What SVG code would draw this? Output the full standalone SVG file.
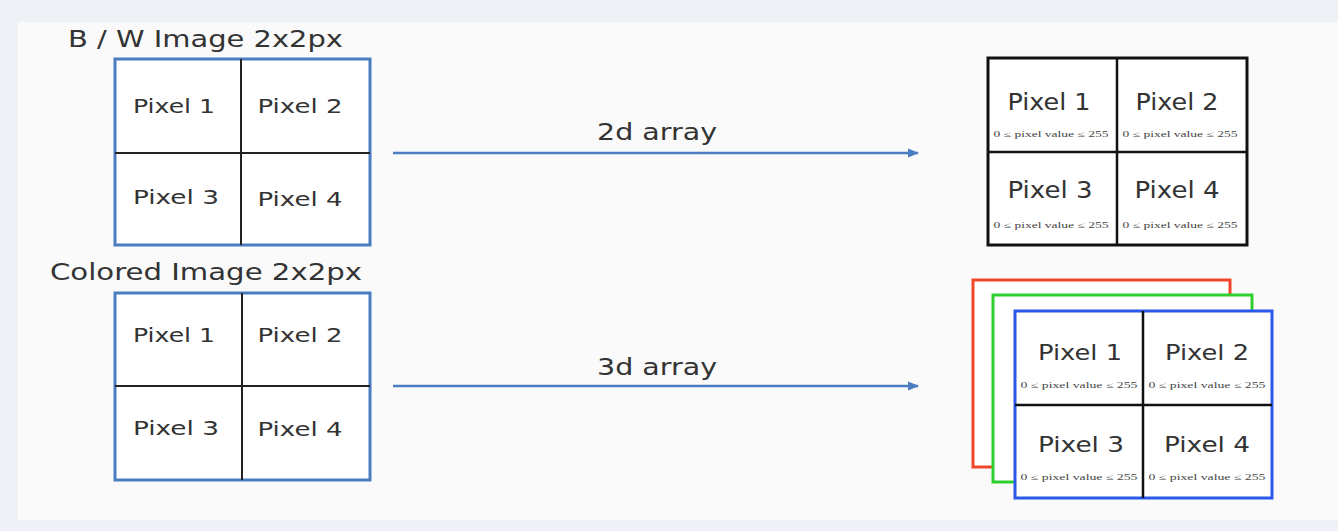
<svg xmlns="http://www.w3.org/2000/svg" width="1338" height="531" viewBox="0 0 1338 531">
<style>
  .t{font-family:"DejaVu Sans","Liberation Sans",sans-serif;fill:#333;}
  .title{font-size:23px;}
  .px{font-size:19px;text-anchor:middle;}
  .pxr{font-size:23px;text-anchor:middle;}
  .pxc{font-size:21px;text-anchor:middle;}
  .sm{font-size:8px;text-anchor:middle;font-family:"Liberation Serif",serif;fill:#444;}
  .lbl{font-size:23px;text-anchor:middle;}
  .lgrid{fill:#fff;stroke:#4a7cc0;stroke-width:3;}
  .div{stroke:#222;stroke-width:2;}
  .divb{stroke:#111;stroke-width:2.5;}
  .conn{stroke:#4a7cc0;stroke-width:2.5;fill:none;}
</style>
<defs>
  <marker id="ah" markerWidth="12" markerHeight="12" refX="10" refY="6" orient="auto" markerUnits="userSpaceOnUse">
    <path d="M0,1.5 L11,6 L0,10.5 Z" fill="#4a7cc0"/>
  </marker>
</defs>
<rect x="0" y="0" width="1338" height="531" fill="#eef2f6"/>
<rect x="18" y="22" width="1320" height="498" fill="#fafafa"/>

<g id="bw-image">
  <text class="t title" x="68" y="47" textLength="275" lengthAdjust="spacingAndGlyphs">B / W Image 2x2px</text>
  <rect class="lgrid" x="115" y="59" width="255" height="186"/>
  <line class="div" x1="241" y1="59" x2="241" y2="245"/>
  <line class="div" x1="115" y1="153" x2="370" y2="153"/>
  <text class="t px" x="174" y="113" textLength="82" lengthAdjust="spacingAndGlyphs">Pixel 1</text>
  <text class="t px" x="300" y="113" textLength="85" lengthAdjust="spacingAndGlyphs">Pixel 2</text>
  <text class="t px" x="176" y="204" textLength="86" lengthAdjust="spacingAndGlyphs">Pixel 3</text>
  <text class="t px" x="300" y="206" textLength="85" lengthAdjust="spacingAndGlyphs">Pixel 4</text>
</g>

<g id="colored-image">
  <text class="t title" x="50" y="280" textLength="312" lengthAdjust="spacingAndGlyphs">Colored Image 2x2px</text>
  <rect class="lgrid" x="115" y="293" width="255" height="187"/>
  <line class="div" x1="242" y1="293" x2="242" y2="480"/>
  <line class="div" x1="115" y1="386" x2="370" y2="386"/>
  <text class="t px" x="174" y="342" textLength="82" lengthAdjust="spacingAndGlyphs">Pixel 1</text>
  <text class="t px" x="300" y="342" textLength="85" lengthAdjust="spacingAndGlyphs">Pixel 2</text>
  <text class="t px" x="176" y="435" textLength="86" lengthAdjust="spacingAndGlyphs">Pixel 3</text>
  <text class="t px" x="300" y="436" textLength="85" lengthAdjust="spacingAndGlyphs">Pixel 4</text>
</g>

<g id="array-2d">
  <rect x="988" y="58" width="259" height="187" fill="#fff" stroke="#111" stroke-width="3"/>
  <line class="divb" x1="1117" y1="58" x2="1117" y2="245"/>
  <line class="divb" x1="988" y1="152" x2="1247" y2="152"/>
  <text class="t pxr" x="1049" y="110" textLength="83" lengthAdjust="spacingAndGlyphs">Pixel 1</text>
  <text class="t pxr" x="1177" y="110" textLength="83" lengthAdjust="spacingAndGlyphs">Pixel 2</text>
  <text class="t pxr" x="1050" y="198" textLength="85" lengthAdjust="spacingAndGlyphs">Pixel 3</text>
  <text class="t pxr" x="1177" y="198" textLength="85" lengthAdjust="spacingAndGlyphs">Pixel 4</text>
  <text class="sm" x="1051" y="137" textLength="115" lengthAdjust="spacingAndGlyphs">0 ≤ pixel value ≤ 255</text>
  <text class="sm" x="1180" y="137" textLength="115" lengthAdjust="spacingAndGlyphs">0 ≤ pixel value ≤ 255</text>
  <text class="sm" x="1051" y="228" textLength="115" lengthAdjust="spacingAndGlyphs">0 ≤ pixel value ≤ 255</text>
  <text class="sm" x="1180" y="228" textLength="115" lengthAdjust="spacingAndGlyphs">0 ≤ pixel value ≤ 255</text>
</g>

<g id="array-3d">
  <rect x="973" y="280" width="257" height="187" fill="#fff" stroke="#f0472c" stroke-width="3"/>
  <rect x="993" y="295" width="259" height="187" fill="#fff" stroke="#2fcf2f" stroke-width="3"/>
  <rect x="1015" y="311" width="257" height="187" fill="#fff" stroke="#2a58ea" stroke-width="3"/>
  <line class="divb" x1="1143" y1="311" x2="1143" y2="498"/>
  <line class="divb" x1="1015" y1="405" x2="1272" y2="405"/>
  <text class="t pxc" x="1080" y="360" textLength="84" lengthAdjust="spacingAndGlyphs">Pixel 1</text>
  <text class="t pxc" x="1207" y="360" textLength="84" lengthAdjust="spacingAndGlyphs">Pixel 2</text>
  <text class="t pxc" x="1081" y="452" textLength="86" lengthAdjust="spacingAndGlyphs">Pixel 3</text>
  <text class="t pxc" x="1207" y="452" textLength="86" lengthAdjust="spacingAndGlyphs">Pixel 4</text>
  <text class="sm" x="1079" y="388" textLength="117" lengthAdjust="spacingAndGlyphs">0 ≤ pixel value ≤ 255</text>
  <text class="sm" x="1207" y="388" textLength="117" lengthAdjust="spacingAndGlyphs">0 ≤ pixel value ≤ 255</text>
  <text class="sm" x="1079" y="480" textLength="117" lengthAdjust="spacingAndGlyphs">0 ≤ pixel value ≤ 255</text>
  <text class="sm" x="1207" y="480" textLength="117" lengthAdjust="spacingAndGlyphs">0 ≤ pixel value ≤ 255</text>
</g>

<g id="connectors">
  <line class="conn" x1="393" y1="153" x2="918" y2="153" marker-end="url(#ah)"/>
  <text class="t lbl" x="657" y="140" textLength="120" lengthAdjust="spacingAndGlyphs">2d array</text>
  <line class="conn" x1="393" y1="386" x2="918" y2="386" marker-end="url(#ah)"/>
  <text class="t lbl" x="657" y="375" textLength="120" lengthAdjust="spacingAndGlyphs">3d array</text>
</g>
</svg>
